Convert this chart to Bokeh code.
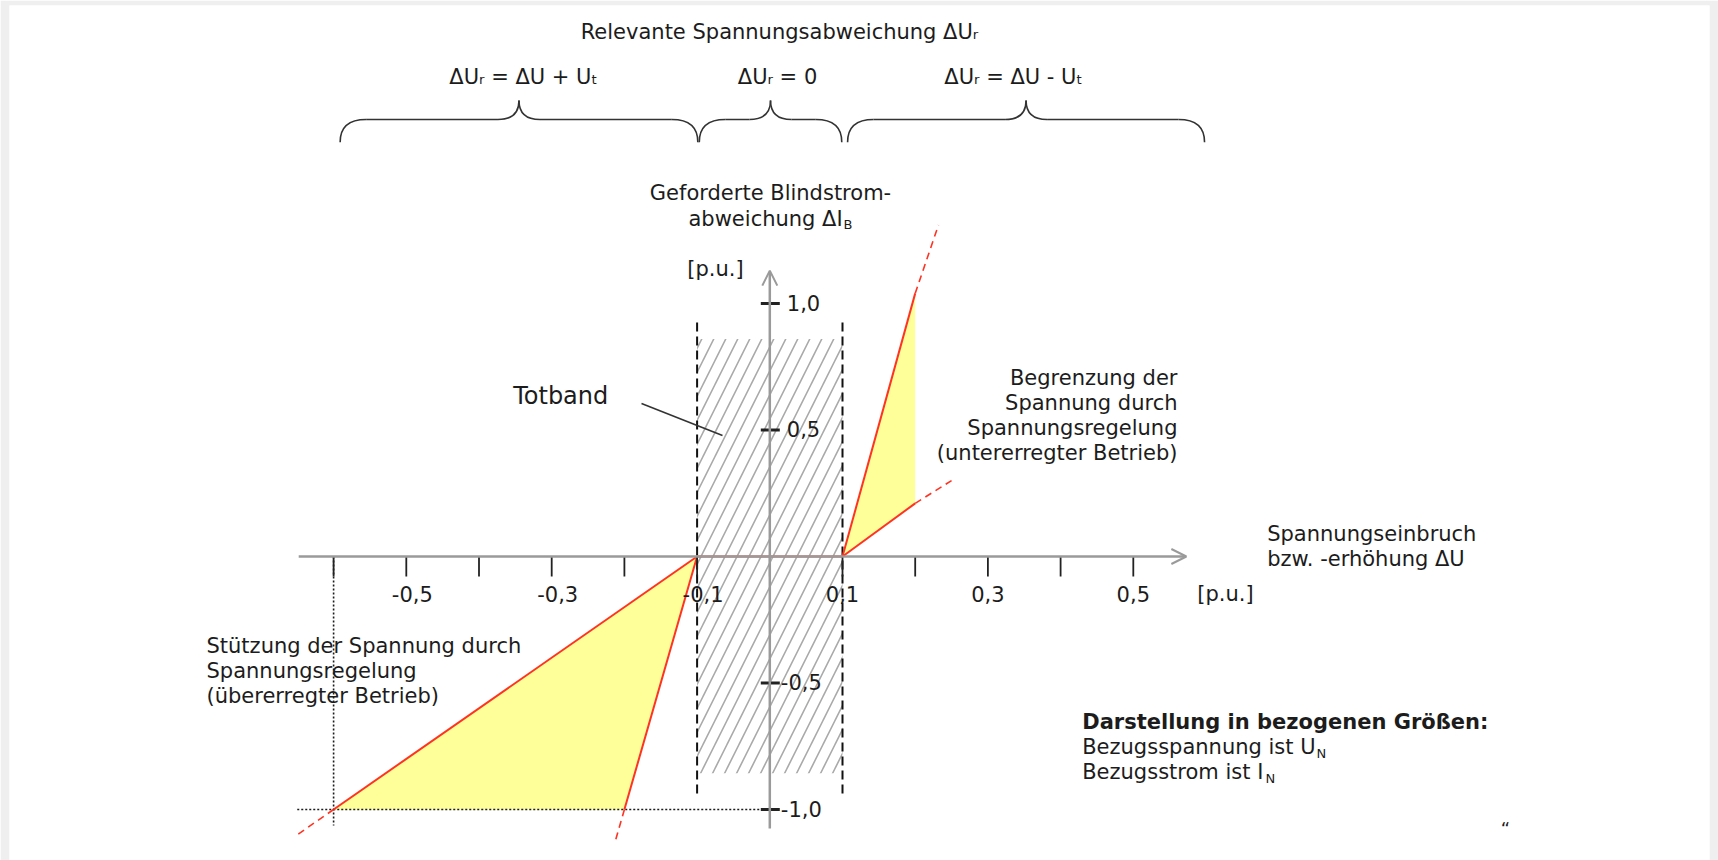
from bokeh.plotting import figure
from bokeh.models import Range1d, Arrow, OpenHead
from bokeh.core.properties import value
from bokeh.embed import file_html
from bokeh.resources import INLINE

# ---------------- data (p.u.) ----------------
x_ticks = [-0.6, -0.5, -0.4, -0.3, -0.2, -0.1, 0.0, 0.1, 0.2, 0.3, 0.4, 0.5]
x_label_vals = [-0.5, -0.3, -0.1, 0.1, 0.3, 0.5]
x_labels = ["-0,5", "-0,3", "-0,1", "0,1", "0,3", "0,5"]
y_ticks = [1.0, 0.5, -0.5, -1.0]
y_labels = ["1,0", "0,5", "-0,5", "-1,0"]
deadband = [-0.1, 0.1]
hatch_span = [-0.857, 0.86]
deadband_line_span = [-0.937, 0.926]
# over-excited (voltage support): deadband edge, shallow end, steep end
over_x = [-0.1, -0.6, -0.2]
over_y = [0.0, -1.0, -1.0]
# under-excited (voltage limiting): deadband edge, steep end, shallow end
under_x = [0.1, 0.2, 0.2]
under_y = [0.0, 1.04, 0.21]
# dashed continuations of the characteristic lines
ext_x0 = [-0.6, -0.2, 0.2, 0.2]
ext_y0 = [-1.0, -1.0, 1.04, 0.21]
ext_x1 = [-0.65, -0.213, 0.232, 0.25]
ext_y1 = [-1.10, -1.13, 1.31, 0.30]
x_axis_span = [-0.648, 0.573]
y_axis_span = [-1.075, 1.13]
ref_x = -0.6
ref_y = -1.0
brace_start = [-0.591, -0.097, 0.107]
brace_end = [-0.099, 0.099, 0.598]

# ---------------- layout ----------------
W, H = 1718, 860
BL, BT, BR = 9, 5, 9    # grey page border (left, top, right)
OX, OY = 769.3, 556.0   # pixel of the origin
SX, SY = 727.0, 253.0   # pixels per p.u.


def X(px):
    return (px - OX) / SX


def Y(py):
    return (OY - py) / SY


def DX(d):
    return d / SX


def DY(d):
    return d / SY


RED = "#ff3322"
YELLOW = "#ffff99"
AXIS = "#9a9a9a"
INK = "#1c1c1c"
FONT = value("DejaVu Sans")

p = figure(width=W, height=H,
           x_range=Range1d(X(BL), X(W - BR)),
           y_range=Range1d(Y(H), Y(BT)),
           x_axis_type=None, y_axis_type=None,
           output_backend="svg", toolbar_location=None,
           min_border_left=BL, min_border_top=BT, min_border_right=BR, min_border_bottom=0)
p.outline_line_color = None
p.background_fill_color = "white"
p.border_fill_color = "#efefef"

# yellow regions
p.patch(over_x, over_y, fill_color=YELLOW, line_color=None)
p.patch(under_x, under_y, fill_color=YELLOW, line_color=None)

# dead band hatch
p.quad(left=[deadband[0]], right=[deadband[1]], bottom=[hatch_span[0]], top=[hatch_span[1]],
       fill_alpha=0, line_color=None, hatch_pattern="/", hatch_color="#a9a9a9",
       hatch_scale=24, hatch_weight=1.6)

# dead band dashed borders
p.segment(x0=deadband, y0=[deadband_line_span[0]] * 2, x1=deadband, y1=[deadband_line_span[1]] * 2,
          line_color="#111111", line_width=2, line_dash="9 5")

# axes with open arrow heads
p.add_layout(Arrow(end=OpenHead(size=15, line_color=AXIS, line_width=2),
                   x_start=x_axis_span[0], y_start=0, x_end=x_axis_span[1], y_end=0,
                   line_color=AXIS, line_width=2.5))
p.add_layout(Arrow(end=OpenHead(size=15, line_color=AXIS, line_width=2),
                   x_start=0, y_start=y_axis_span[0], x_end=0, y_end=y_axis_span[1],
                   line_color=AXIS, line_width=2.5))

# dotted reference lines
p.line([ref_x, ref_x], [0, y_axis_span[0] + DY(3)], line_color=INK, line_width=1.6, line_dash="2 2")
p.line([ext_x1[0], 0], [ref_y, ref_y], line_color=INK, line_width=1.6, line_dash="2 2")

# characteristic lines
p.multi_line(xs=[[over_x[0], over_x[1]], [over_x[0], over_x[2]],
                 [under_x[0], under_x[1]], [under_x[0], under_x[2]], deadband],
             ys=[[over_y[0], over_y[1]], [over_y[0], over_y[2]],
                 [under_y[0], under_y[1]], [under_y[0], under_y[2]], [0, 0]],
             line_color=RED, line_width=2)
p.segment(ext_x0, ext_y0, ext_x1, ext_y1, line_color=RED, line_width=1.6, line_dash="7 5")

# ticks
n = len(x_ticks)
p.segment(x_ticks, [0] * n, x_ticks, [-DY(20)] * n, line_color="#222222", line_width=1.8)
m = len(y_ticks)
p.segment([-DX(9)] * m, y_ticks, [DX(10)] * m, y_ticks, line_color="#222222", line_width=3)

# tick labels
p.text(x=[v + (DX(6) if v < 0 else 0) for v in x_label_vals], y=[Y(593)] * len(x_label_vals),
       text=x_labels, text_align="center", text_baseline="middle",
       text_font=FONT, text_font_size="21px", text_color=INK)
p.text(x=[DX(17) if v > 0 else DX(11) for v in y_ticks], y=[v + DY(1) for v in y_ticks],
       text=y_labels, text_align="left", text_baseline="middle",
       text_font=FONT, text_font_size="21px", text_color=INK)

# braces
rx_end, rx_tip = DX(26), DX(21)
y_end, y_h, y_tip = Y(141.7), Y(119), Y(100)
bx0, by0, bx1, by1, bcx, bcy = [], [], [], [], [], []
sx0, sx1 = [], []
for a, b in zip(brace_start, brace_end):
    t = (a + b) / 2
    bx0 += [a, t - rx_tip, t, b - rx_end]
    by0 += [y_end, y_h, y_tip, y_h]
    bx1 += [a + rx_end, t, t + rx_tip, b]
    by1 += [y_h, y_tip, y_h, y_end]
    bcx += [a, t, t, b]
    bcy += [y_h, y_h, y_h, y_h]
    sx0 += [a + rx_end, t + rx_tip]
    sx1 += [t - rx_tip, b - rx_end]
p.quadratic(x0=bx0, y0=by0, x1=bx1, y1=by1, cx=bcx, cy=bcy, line_color="#333333", line_width=1.6)
p.segment(x0=sx0, y0=[y_h] * len(sx0), x1=sx1, y1=[y_h] * len(sx0), line_color="#333333", line_width=1.6)

# Totband leader line
p.line([X(641), X(722)], [Y(403), Y(435)], line_color="#333333", line_width=1.5)


def txt(x, y, s, align="left", size="21px", style="normal"):
    p.text(x=[x], y=[y], text=[s], text_align=align, text_baseline="middle",
           text_font=FONT, text_font_size=size, text_font_style=style, text_color=INK)


# header
txt(X(779), Y(31.7), "Relevante Spannungsabweichung \u0394U\u1d63", "center")
txt(X(523), Y(76), "\u0394U\u1d63 = \u0394U + U\u209c", "center")
txt(X(777), Y(76), "\u0394U\u1d63 = 0", "center")
txt(X(1013), Y(76), "\u0394U\u1d63 = \u0394U - U\u209c", "center")

# y axis title
txt(X(770), Y(192.7), "Geforderte Blindstrom-", "center")
txt(X(688), Y(218.3), "abweichung \u0394I")
txt(X(843), Y(224), "B", size="13px")
txt(X(686.7), Y(268), "[p.u.]")

# x axis title
txt(X(1266.7), Y(533.5), "Spannungseinbruch")
txt(X(1266.7), Y(558.8), "bzw. -erh\u00f6hung  \u0394U")
txt(X(1196.7), Y(593), "[p.u.]")

# annotations
txt(X(512.7), Y(395), "Totband", size="24px")
for i, s in enumerate(["Begrenzung der", "Spannung durch", "Spannungsregelung",
                       "(untererregter Betrieb)"]):
    txt(X(1177), Y(377 + 25.2 * i), s, "right")
for i, s in enumerate(["St\u00fctzung der Spannung durch", "Spannungsregelung",
                       "(\u00fcbererregter Betrieb)"]):
    txt(X(206), Y(645 + 25 * i), s)

txt(X(1081.7), Y(721.7), "Darstellung in bezogenen Gr\u00f6\u00dfen:", style="bold")
txt(X(1081.7), Y(746.7), "Bezugsspannung ist U")
txt(X(1316), Y(752.5), "N", size="13px")
txt(X(1081.7), Y(771.7), "Bezugsstrom ist I")
txt(X(1265), Y(777.5), "N", size="13px")
txt(X(1505), Y(828), "\u201c", "center", size="18px")

open("out.html", "w").write(file_html(p, INLINE))
